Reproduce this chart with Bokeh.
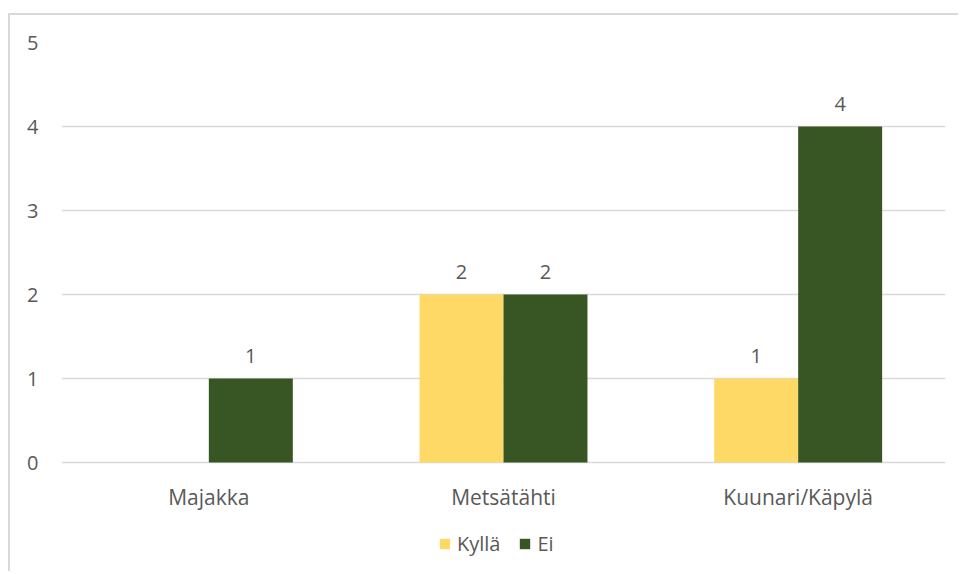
from bokeh.plotting import figure
from bokeh.models import ColumnDataSource, FactorRange, Range1d, LabelSet, Legend, LegendItem, FixedTicker, Column
from bokeh.core.properties import value
from bokeh.transform import dodge
from bokeh.embed import file_html
from bokeh.resources import INLINE

categories = ["Majakka", "Metsätähti", "Kuunari/Käpylä"]
kylla = [0, 2, 1]
ei = [1, 2, 4]
series_names = ["Kyllä", "Ei"]
y_ticks = [0, 1, 2, 3, 4, 5]

FONT = "Open Sans"
TXT = "#595959"
YELLOW = "#FFD966"
GREEN = "#375623"

# frame extends below zero so the legend can sit inside it (84 px per unit)
FRAME_H = 529
Y_MAX = 5
Y_MIN = Y_MAX - FRAME_H / 84.0

src = ColumnDataSource(data=dict(cat=categories, kylla=kylla, ei=ei))

p = figure(x_range=FactorRange(*categories, range_padding=0), y_range=Range1d(Y_MIN, Y_MAX),
           frame_width=884, frame_height=FRAME_H,
           output_backend="svg", toolbar_location=None,
           min_border_left=51, min_border_right=13, min_border_top=27, min_border_bottom=0)
p.outline_line_color = None
p.xgrid.grid_line_color = None
p.ygrid.grid_line_color = "#d9d9d9"
p.ygrid.grid_line_width = 1.5
p.yaxis.ticker = FixedTicker(ticks=y_ticks)
p.xaxis.fixed_location = 0

for ax in (p.xaxis[0], p.yaxis[0]):
    ax.axis_line_color = None
    ax.major_tick_line_color = None
    ax.minor_tick_line_color = None
    ax.major_tick_out = 0
    ax.major_tick_in = 0
    ax.axis_label_standoff = 0
    ax.major_label_text_font = FONT
    ax.major_label_text_color = TXT
p.yaxis.major_label_text_font_size = "20px"
p.xaxis.major_label_text_font_size = "21px"
p.yaxis.major_label_standoff = 23
p.xaxis.major_label_standoff = 20

w = 0.285
r1 = p.vbar(x=dodge("cat", -w / 2, range=p.x_range), top="kylla", bottom=0, width=w, source=src,
            fill_color=YELLOW, line_color=None)
r2 = p.vbar(x=dodge("cat", w / 2, range=p.x_range), top="ei", bottom=0, width=w, source=src,
            fill_color=GREEN, line_color=None)

# data labels (non-zero values only)
for off, vals in ((-w / 2, kylla), (w / 2, ei)):
    cats = [c for c, v in zip(categories, vals) if v > 0]
    vv = [v for v in vals if v > 0]
    s = ColumnDataSource(data=dict(cat=cats, val=vv, txt=[str(v) for v in vv]))
    labels = LabelSet(x=dodge("cat", off, range=p.x_range), y="val", text="txt", source=s,
                      text_align="center", text_baseline="middle", y_offset=23,
                      text_font=value(FONT), text_font_size="20px", text_color=TXT)
    p.add_layout(labels)

legend = Legend(items=[LegendItem(label=series_names[0], renderers=[r1]),
                       LegendItem(label=series_names[1], renderers=[r2])],
                orientation="horizontal", location=(377, 14),
                label_text_font=FONT, label_text_font_size="20px", label_text_color=TXT,
                label_text_line_height=1.0, label_height=13,
                glyph_width=13, glyph_height=13, label_standoff=6, spacing=18,
                border_line_color=None, background_fill_alpha=0, margin=0, padding=0)
p.add_layout(legend)

root = Column(p, styles={"border-left": "2px solid #d9d9d9", "border-top": "2px solid #d9d9d9",
                         "margin-top": "13px", "margin-left": "8px"})

open("out.html", "w").write(file_html(root, INLINE))
